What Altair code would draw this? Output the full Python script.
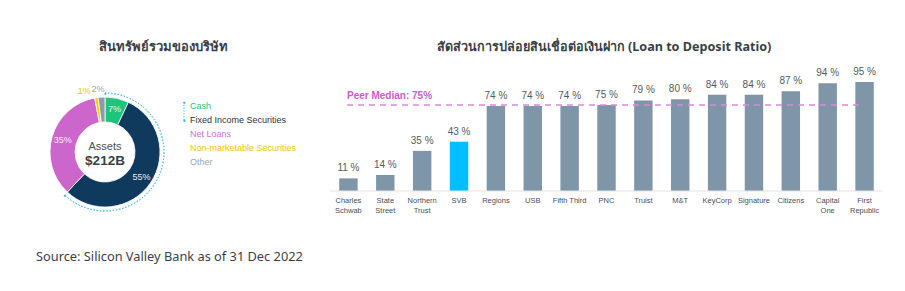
import math
import altair as alt
import pandas as pd

# ---------------- data ----------------
left_title = "สินทรัพย์รวมของบริษัท"
right_title = "สัดส่วนการปล่อยสินเชื่อต่อเงินฝาก (Loan to Deposit Ratio)"
source_note = "Source: Silicon Valley Bank as of 31 Dec 2022"

asset_cats = ["Cash", "Fixed Income Securities", "Net Loans",
              "Non-marketable Securities", "Other"]
asset_vals = [7, 55, 35, 1, 2]
center_lines = ["Assets", "$212B"]

banks = ["Charles\nSchwab", "State\nStreet", "Northern\nTrust", "SVB", "Regions",
         "USB", "Fifth Third", "PNC", "Truist", "M&T", "KeyCorp", "Signature",
         "Citizens", "Capital\nOne", "First\nRepublic"]
ratios = [11, 14, 35, 43, 74, 74, 74, 75, 79, 80, 84, 84, 87, 94, 95]
peer_median = 75
highlight_bank = "SVB"

# ---------------- styles ----------------
slice_colors = ["#1fc47c", "#0f3a5e", "#cc66cc", "#ffcc00", "#8d9cab"]
legend_colors = ["#1fc47c", "#2d3540", "#d36ed6", "#f2c500", "#9aa6b2"]
bar_color = "#7f95a8"
hl_color = "#00bfff"
dot_blue = "#33b5f0"
FONT = "Liberation Sans"
CX, CY = 105, 152

ddf = pd.DataFrame({"cat": asset_cats, "value": asset_vals, "i": list(range(len(asset_vals)))})
theta_scale = alt.Scale(domain=[0, 100], range=[0, 2 * math.pi])

donut_base = (
    alt.Chart(ddf)
    .transform_stack(stack="value", as_=["s0", "s1"], groupby=[], sort=[alt.SortField("i")])
    .transform_calculate(mid="(datum.s0 + datum.s1) / 2", lbl="datum.value + '%'")
)

arcs = donut_base.mark_arc(innerRadius=30, outerRadius=55, stroke="white", strokeWidth=0.8).encode(
    theta=alt.Theta("s0:Q", scale=theta_scale, stack=None),
    theta2="s1:Q",
    color=alt.Color("cat:N", scale=alt.Scale(domain=asset_cats, range=slice_colors), legend=None),
    x=alt.value(CX), y=alt.value(CY),
)

inner_lbl = donut_base.transform_filter(
    alt.FieldOneOfPredicate(field="cat", oneOf=asset_cats[:3])
).mark_text(radius=44, color="white", fontSize=9, font=FONT, opacity=0.9).encode(
    theta=alt.Theta("mid:Q", scale=theta_scale, stack=None),
    text="lbl:N", x=alt.value(CX), y=alt.value(CY),
)
other_lbl = donut_base.transform_filter(alt.datum.cat == asset_cats[4]).mark_text(
    radius=63, dx=-3, color="#9aa6b2", fontSize=9, font=FONT).encode(
    theta=alt.Theta("mid:Q", scale=theta_scale, stack=None),
    text="lbl:N", x=alt.value(CX), y=alt.value(CY),
)
nm_lbl = donut_base.transform_filter(alt.datum.cat == asset_cats[3]).mark_text(
    radius=62, dx=-11, color="#f2c500", fontSize=9, font=FONT).encode(
    theta=alt.Theta("mid:Q", scale=theta_scale, stack=None),
    text="lbl:N", x=alt.value(CX), y=alt.value(CY),
)

span_df = pd.DataFrame({"s0": [0], "s1": [asset_vals[0] + asset_vals[1]]})
dotted_arc = alt.Chart(span_df).mark_arc(
    radius=59, radius2=59, fillOpacity=0, stroke=dot_blue, strokeWidth=1, strokeDash=[1.2, 2.0]
).encode(
    theta=alt.Theta("s0:Q", scale=theta_scale, stack=None), theta2="s1:Q",
    x=alt.value(CX), y=alt.value(CY),
)
end_df = pd.DataFrame({"t": [0, asset_vals[0] + asset_vals[1]], "d": ["●", "●"]})
end_dots = alt.Chart(end_df).mark_text(radius=59, fontSize=5, color=dot_blue).encode(
    theta=alt.Theta("t:Q", scale=theta_scale, stack=None), text="d:N",
    x=alt.value(CX), y=alt.value(CY),
)

center_df = pd.DataFrame({"t": center_lines})
center1 = alt.Chart(center_df.iloc[[0]]).mark_text(fontSize=11, color="#4a4f55", font=FONT).encode(
    text="t:N", x=alt.value(CX), y=alt.value(CY - 5))
center2 = alt.Chart(center_df.iloc[[1]]).mark_text(fontSize=13.5, fontWeight="bold", color="#3a3f45", font=FONT).encode(
    text="t:N", x=alt.value(CX), y=alt.value(CY + 9))

# legend (text only, coloured)
legend_layers = []
for i, c in enumerate(asset_cats):
    legend_layers.append(
        alt.Chart(ddf.iloc[[i]]).mark_text(align="left", baseline="middle", fontSize=9, font=FONT,
                                            color=legend_colors[i]).encode(
            x=alt.value(190), y=alt.value(106 + 14 * i), text="cat:N")
    )
one = pd.DataFrame({"d": ["●"]})
bracket = alt.Chart(one).mark_rule(color=dot_blue, strokeDash=[1.2, 1.6], strokeWidth=1).encode(
    x=alt.value(184), y=alt.value(102), y2=alt.value(120))
bdot1 = alt.Chart(one).mark_text(fontSize=5, color=dot_blue).encode(
    x=alt.value(184), y=alt.value(102), text="d:N")
bdot2 = alt.Chart(one).mark_text(fontSize=5, color=dot_blue).encode(
    x=alt.value(184), y=alt.value(120), text="d:N")

# ---------------- bar chart ----------------
bdf = pd.DataFrame({"bank": banks, "ratio": ratios})
bdf["lbl"] = bdf["ratio"].astype(str) + " %"

xenc = alt.X("bank:N", sort=banks,
             scale=alt.Scale(domain=banks, range=[330, 883], paddingInner=0.5, paddingOuter=0.25),
             axis=None)
yscale = alt.Scale(domain=[0, 100], range=[191, 76.3])
yenc = alt.Y("ratio:Q", scale=yscale, axis=None)

bbase = alt.Chart(bdf)
bars = bbase.mark_bar().encode(
    x=xenc, y=yenc,
    color=alt.condition(alt.datum.bank == highlight_bank, alt.value(hl_color), alt.value(bar_color)),
)
vals = bbase.mark_text(baseline="bottom", dy=-5, fontSize=10, color="#555a60", font=FONT).encode(
    x=xenc, y=yenc, text="lbl:N")
cats = bbase.mark_text(baseline="top", fontSize=7.5, lineBreak="\n", lineHeight=9.5,
                       color="#4a4f55", font=FONT).encode(
    x=xenc, y=alt.value(197), text="bank:N")
med_df = pd.DataFrame({"m": [peer_median], "z": [0]})
base_line = alt.Chart(med_df).mark_rule(color="#e3e3e3", strokeWidth=1).encode(
    x=alt.value(330), x2=alt.value(883), y=alt.Y("z:Q", scale=yscale, axis=None))
med_rule = alt.Chart(med_df).mark_rule(color="#d98bd9", strokeDash=[6, 5], strokeWidth=1.6).encode(
    x=alt.value(347), x2=alt.value(862), y=alt.Y("m:Q", scale=yscale, axis=None))
med_lbl = alt.Chart(med_df).transform_calculate(t="'Peer Median: ' + datum.m + '%'").mark_text(
    align="left", baseline="bottom", dy=-4, fontSize=10, fontWeight="bold", color="#cf5acf", font=FONT
).encode(x=alt.value(347), y=alt.Y("m:Q", scale=yscale, axis=None), text="t:N")

# ---------------- titles ----------------
titles_df = pd.DataFrame({"t": [left_title, right_title, source_note]})
t1 = alt.Chart(titles_df.iloc[[0]]).mark_text(fontSize=13, fontWeight="bold", color="#3a3f45", font="Noto Sans").encode(
    text="t:N", x=alt.value(163), y=alt.value(47))
t2 = alt.Chart(titles_df.iloc[[1]]).mark_text(fontSize=12.6, fontWeight="bold", color="#3a3f45", font="Noto Sans").encode(
    text="t:N", x=alt.value(604), y=alt.value(47))
t3 = alt.Chart(titles_df.iloc[[2]]).mark_text(fontSize=12.8, align="left", color="#3a3f45", font="Noto Sans").encode(
    text="t:N", x=alt.value(36), y=alt.value(257))

chart = alt.layer(
    dotted_arc, arcs, inner_lbl, other_lbl, nm_lbl, end_dots, center1, center2,
    bracket, bdot1, bdot2, *legend_layers,
    bars, base_line, vals, cats, med_rule, med_lbl,
    t1, t2, t3,
).properties(
    width=905, height=291, autosize=alt.AutoSizeParams(type="none"), padding=0, background="white"
).configure_view(strokeWidth=0)

chart.save("out.html", embed_options={"renderer": "svg", "actions": False})
